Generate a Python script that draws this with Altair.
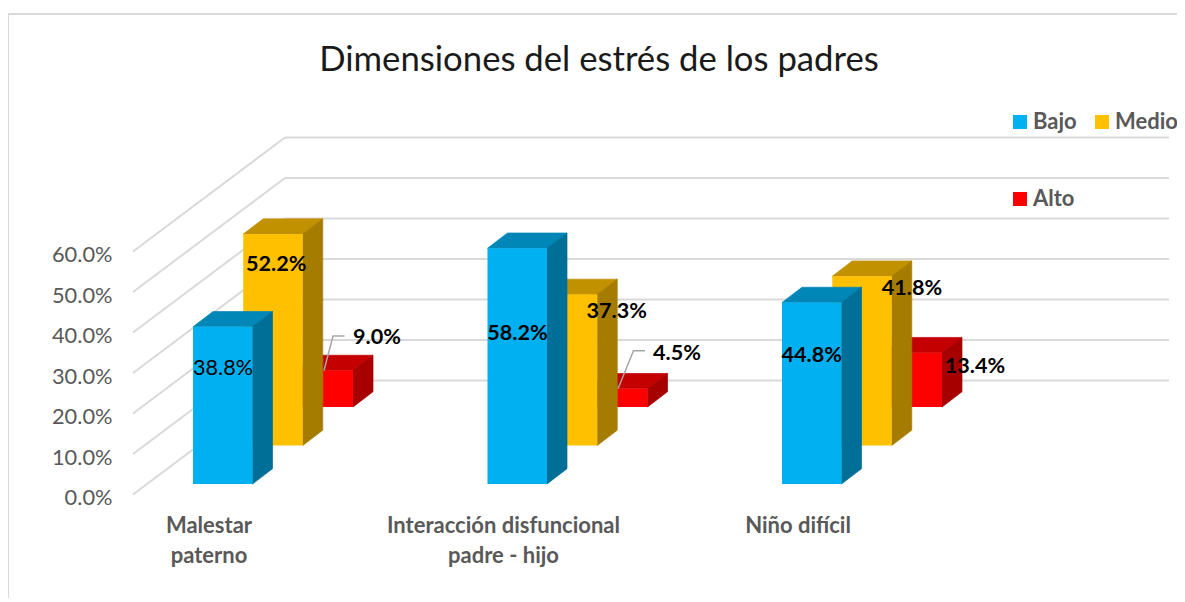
import altair as alt
import pandas as pd

# ---- data ----
category_lines = ["Malestar|paterno", "Interacción disfuncional|padre - hijo", "Niño difícil"]
series = ["Bajo", "Medio", "Alto"]
bajo = [0.388, 0.582, 0.448]
medio = [0.522, 0.373, 0.418]
alto = [0.090, 0.045, 0.134]
y_ticks = [0, 0.1, 0.2, 0.3, 0.4, 0.5, 0.6]
title_text = "Dimensiones del estrés de los padres"

# ---- styling and layout ----
front_colors = ["#00B0F0", "#FFC000", "#FF0000"]
side_colors = ["#006F98", "#A67C00", "#A60000"]
top_colors = ["#0086B7", "#C29100", "#C40000"]
GRID = "#D9D9D9"
TEXT = "#595959"
FONT = "Lato"
W, H = 1167, 590
LEFT, TOP = 10, 8          # page position of the plot area
STEP = 294.5               # pixels between categories
PX = 405.0                 # pixels for 100 %


def sx(p):
    return (p - 208.5) / STEP


def sy(p):
    return (494.5 - p) / PX


def du(p):
    return p / STEP


def dv(p):
    return p / PX


BAR_W = du(59.5)
DX, DY = du(20), dv(15.3)
SER_DX, SER_DY = du(50.25), dv(38.5)
FIRST_X = du(193 - 208.5)
FIRST_BASE = dv(494.5 - 484)
WALL_DX, WALL_DY = du(152), dv(114)
WALL_X0 = sx(133)

x_scale = alt.Scale(domain=[sx(LEFT), sx(LEFT + W)], nice=False, zero=False)
y_scale = alt.Scale(domain=[sy(TOP + H), sy(TOP)], nice=False, zero=False)
color_scale = alt.Scale(domain=series, range=front_colors)

x_axis = alt.Axis(
    values=[0, 1, 2],
    orient="bottom",
    offset=-83,
    domain=False,
    ticks=False,
    grid=False,
    title=None,
    labelFont=FONT,
    labelFontSize=22,
    labelFontWeight="bold",
    labelColor=TEXT,
    labelPadding=0,
    labelLineHeight=30,
    labelLimit=400,
    labelOverlap=False,
    labelFlush=False,
    labelBaseline="top",
    labelExpr="split(" + str(category_lines) + "[datum.value], '|')",
)
y_axis = alt.Axis(
    values=y_ticks,
    orient="left",
    offset=-104,
    domain=False,
    ticks=False,
    grid=False,
    title=None,
    format=".1%",
    labelFont=FONT,
    labelFontSize=21.8,
    labelColor=TEXT,
    labelPadding=2,
    labelOffset=3,
    labelOverlap=False,
    labelFlush=False,
)
X = alt.X("x:Q", scale=x_scale, axis=x_axis)
Y = alt.Y("y:Q", scale=y_scale, axis=y_axis, stack=None)

values = [bajo, medio, alto]
layers = []

# border
border = pd.DataFrame({"x": [sx(8)], "x2": [sx(1177)], "y": [sy(14)]})
layers.append(alt.Chart(border).mark_rule(color=GRID, strokeWidth=2).encode(X, x2="x2:Q", y=Y))
border_l = pd.DataFrame({"x": [sx(8)], "y": [sy(14)], "y2": [sy(601)]})
layers.append(alt.Chart(border_l).mark_rule(color=GRID, strokeWidth=2).encode(X, y=Y, y2="y2:Q"))

# walls
back = pd.DataFrame({"y": [t + WALL_DY for t in y_ticks]})
back["x"] = WALL_X0 + WALL_DX
back["x2"] = sx(1169)
layers.append(alt.Chart(back).mark_rule(color=GRID, strokeWidth=2).encode(X, x2="x2:Q", y=Y))
wall_rows = []
for t in y_ticks:
    wall_rows.append({"t": t, "x": WALL_X0, "y": t})
    wall_rows.append({"t": t, "x": WALL_X0 + WALL_DX, "y": t + WALL_DY})
layers.append(
    alt.Chart(pd.DataFrame(wall_rows))
    .mark_line(color=GRID, strokeWidth=2)
    .encode(X, Y, detail="t:Q")
)

# bars, back to front
for s in [2, 1, 0]:
    top_rows, side_rows, front_rows = [], [], []
    for c, v in enumerate(values[s]):
        x0 = c + FIRST_X + s * SER_DX
        x1 = x0 + BAR_W
        base = FIRST_BASE + s * SER_DY
        top = base + v
        top_rows += [
            {"cat": c, "y": top, "x": x0, "x2": x1},
            {"cat": c, "y": top + DY, "x": x0 + DX, "x2": x1 + DX},
        ]
        side_rows += [
            {"cat": c, "x": x1, "y": top, "y2": base},
            {"cat": c, "x": x1 + DX, "y": top + DY, "y2": base + DY},
        ]
        front_rows.append({"cat": c, "serie": series[s], "x": x0, "x2": x1, "y": top, "y2": base})
    layers.append(
        alt.Chart(pd.DataFrame(top_rows))
        .mark_area(orient="horizontal", color=top_colors[s], stroke=top_colors[s], strokeWidth=0.7)
        .encode(X, Y, x2="x2:Q", detail="cat:N")
    )
    layers.append(
        alt.Chart(pd.DataFrame(side_rows))
        .mark_area(color=side_colors[s], stroke=side_colors[s], strokeWidth=0.7)
        .encode(X, Y, y2="y2:Q", detail="cat:N")
    )
    layers.append(
        alt.Chart(pd.DataFrame(front_rows))
        .mark_rect()
        .encode(
            X,
            Y,
            x2="x2:Q",
            y2="y2:Q",
            color=alt.Color(
                "serie:N",
                scale=color_scale,
                sort=series,
                legend=alt.Legend(
                    orient="none",
                    legendX=999,
                    legendY=103,
                    title=None,
                    direction="horizontal",
                    columns=2,
                    symbolType="square",
                    symbolSize=196,
                    symbolStrokeWidth=0,
                    labelFont=FONT,
                    labelFontSize=22,
                    labelFontWeight="bold",
                    labelColor=TEXT,
                    labelOffset=2,
                    labelLimit=200,
                    columnPadding=14,
                    rowPadding=55,
                    gridAlign="each",
                ),
            ),
        )
    )

# leader lines (only the two small Alto bars have them)
leader_rows = []
for c, (start, rise, run) in enumerate([(sx(324), dv(34.5), du(9)), (sx(618), dv(38), du(15.5))]):
    y0 = FIRST_BASE + 2 * SER_DY + alto[c]
    leader_rows += [
        {"k": c, "o": 0, "x": start, "y": y0},
        {"k": c, "o": 1, "x": start + run, "y": y0 + rise},
        {"k": c, "o": 2, "x": start + run + du(11.5), "y": y0 + rise},
    ]
layers.append(
    alt.Chart(pd.DataFrame(leader_rows))
    .mark_line(color="#A6A6A6", strokeWidth=1.5)
    .encode(X, Y, detail="k:N", order="o:Q")
)

# data labels: shift (px) from the front face's left/top corner
label_shift = {
    (0, 0): (30, 41.7),
    (0, 1): (33, 30.7),
    (0, 2): (83.5, -32.7),
    (1, 0): (30, 85.5),
    (1, 1): (79, 17.4),
    (1, 2): (89, -35.2),
    (2, 0): (29.7, 53.2),
    (2, 1): (79.7, 12.3),
    (2, 2): (92.5, 14.4),
}
normal_rows, bold_rows = [], []
for s in range(3):
    for c, v in enumerate(values[s]):
        sh = label_shift[(c, s)]
        row = {
            "x": c + FIRST_X + s * SER_DX + du(sh[0]),
            "y": FIRST_BASE + s * SER_DY + v - dv(sh[1]),
            "label": f"{v * 100:.1f}%",
        }
        (normal_rows if (c, s) == (0, 0) else bold_rows).append(row)
for rows, weight in [(normal_rows, "normal"), (bold_rows, "bold")]:
    layers.append(
        alt.Chart(pd.DataFrame(rows))
        .mark_text(font=FONT, fontSize=21.6, fontWeight=weight, color="#000000", align="center", baseline="middle")
        .encode(X, Y, text="label:N")
    )

chart = (
    alt.layer(*layers)
    .properties(
        width=W,
        height=H,
        padding={"left": 2, "top": 0, "right": 0, "bottom": 0},
        autosize=alt.AutoSizeParams(type="none"),
        title=alt.TitleParams(
            title_text,
            font=FONT,
            fontSize=34.7,
            fontWeight="normal",
            color="#1a1a1a",
            anchor="middle",
            frame="group",
            offset=-71,
            dx=5.5,
        ),
    )
    .configure_view(stroke=None)
)

chart.save("out.html", embed_options={"renderer": "svg", "actions": False})
